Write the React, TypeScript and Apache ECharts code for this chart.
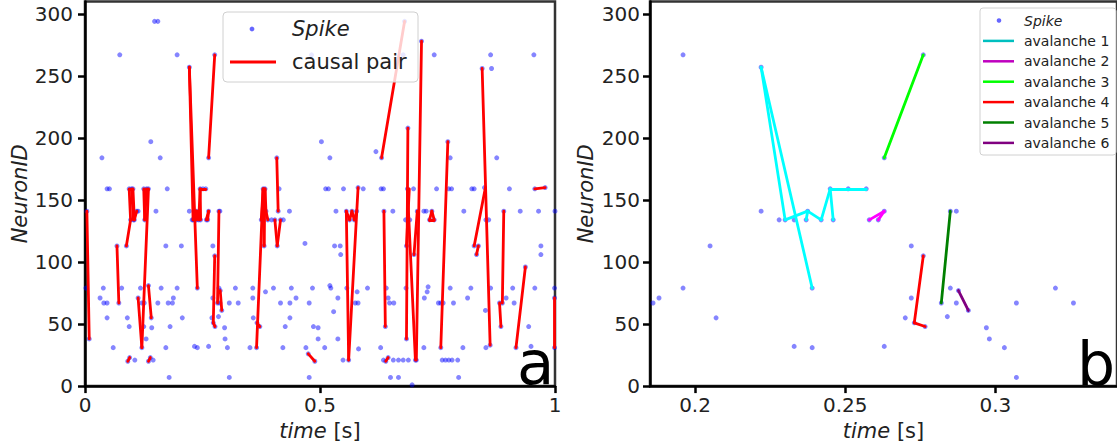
import React, { useEffect, useRef } from "react";
import * as echarts from "echarts";

type P = [number, number];
type E = [P, P];

// ---- spikes (time [s], neuron id) ----
const spikesEarly: P[] = [
  [0.002, 79], [0.004, 141], [0.009, 38], [0.032, 71], [0.036, 184], [0.039, 79], [0.040, 67], [0.047, 67],
  [0.047, 159], [0.052, 159], [0.047, 55], [0.060, 31], [0.068, 113], [0.072, 67], [0.074, 267], [0.078, 79],
  [0.088, 113], [0.090, 55], [0.094, 48], [0.091, 20], [0.095, 23], [0.094, 159], [0.097, 134], [0.099, 159],
  [0.102, 159], [0.103, 134], [0.105, 134], [0.106, 21], [0.110, 141], [0.113, 141], [0.113, 71], [0.118, 79],
  [0.121, 31], [0.121, 67], [0.125, 159], [0.126, 67], [0.125, 48], [0.127, 134], [0.130, 38], [0.131, 159],
  [0.135, 159], [0.135, 81], [0.141, 55], [0.135, 20], [0.139, 23], [0.142, 47], [0.145, 21], [0.140, 197],
  [0.148, 294], [0.155, 294], [0.151, 141], [0.155, 67], [0.160, 184], [0.162, 79], [0.172, 113], [0.172, 31],
  [0.175, 159], [0.177, 67], [0.179, 7], [0.181, 48],
];

const spikesWindow: P[] = [
  [0.186, 67], [0.188, 71], [0.196, 79], [0.196, 267], [0.205, 113], [0.207, 55], [0.222, 257], [0.222, 141],
  [0.228, 134], [0.230, 134], [0.233, 134], [0.237, 134], [0.2375, 141], [0.242, 134], [0.245, 159], [0.246, 134],
  [0.251, 159], [0.257, 159], [0.233, 32], [0.239, 31], [0.239, 79], [0.258, 134], [0.261, 134], [0.263, 141],
  [0.263, 184], [0.276, 267], [0.263, 32], [0.270, 55], [0.272, 113], [0.272, 71], [0.273, 51], [0.276, 105],
  [0.2766, 48], [0.282, 67], [0.285, 141], [0.287, 141], [0.285, 79], [0.287, 67], [0.284, 56], [0.2877, 77],
  [0.291, 61], [0.297, 47], [0.298, 38], [0.303, 31], [0.307, 7], [0.307, 67], [0.320, 79], [0.326, 67],
];

const spikesLate: P[] = [
  [0.482, 267], [0.677, 267], [0.743, 267], [0.863, 267], [0.955, 267], [0.845, 256], [0.865, 256],
  [0.716, 278], [0.680, 294], [0.687, 208], [0.503, 197], [0.772, 197], [0.619, 189],
  [0.408, 184], [0.521, 184], [0.631, 184], [0.777, 184], [0.876, 184],
  [0.379, 159], [0.383, 159], [0.413, 159], [0.512, 159], [0.518, 159], [0.550, 159], [0.581, 160], [0.592, 159],
  [0.630, 159], [0.635, 159], [0.686, 159], [0.699, 159], [0.748, 159], [0.774, 159], [0.780, 159], [0.823, 159],
  [0.828, 159], [0.850, 160], [0.903, 159], [0.957, 159], [0.979, 160],
  [0.385, 141], [0.411, 141], [0.435, 141], [0.534, 141], [0.556, 141], [0.568, 141], [0.578, 141], [0.636, 141],
  [0.655, 141], [0.707, 141], [0.721, 141], [0.726, 141], [0.738, 141], [0.806, 141], [0.891, 141], [0.926, 141],
  [0.965, 141], [1.0, 141],
  [0.375, 134], [0.389, 134], [0.397, 134], [0.404, 134], [0.416, 134], [0.422, 134], [0.563, 134], [0.573, 134],
  [0.682, 134], [0.691, 134], [0.733, 134], [0.743, 134], [0.853, 134], [0.859, 134],
  [0.381, 113], [0.409, 113], [0.468, 115], [0.531, 113], [0.543, 113], [0.684, 113], [0.828, 113], [0.837, 113],
  [0.970, 113], [0.544, 106], [0.700, 106], [0.833, 106], [0.970, 106], [0.937, 96],
  [0.357, 79], [0.384, 76], [0.401, 79], [0.439, 79], [0.484, 79], [0.521, 81], [0.523, 79], [0.557, 79],
  [0.579, 76], [0.601, 79], [0.641, 79], [0.683, 79], [0.722, 71], [0.728, 76], [0.730, 80], [0.777, 79],
  [0.821, 79], [0.863, 79], [0.910, 79], [0.957, 79], [0.999, 79],
  [0.357, 71], [0.449, 71], [0.538, 71], [0.645, 71], [0.814, 71], [0.896, 71], [0.999, 71],
  [0.416, 67], [0.436, 67], [0.477, 67], [0.575, 67], [0.581, 67], [0.648, 67], [0.657, 67], [0.752, 67],
  [0.757, 67], [0.762, 67], [0.784, 67], [0.882, 67], [0.888, 67], [0.913, 67],
  [0.529, 60], [0.852, 61], [0.358, 55], [0.436, 55],
  [0.366, 51], [0.372, 48], [0.426, 48], [0.486, 48], [0.496, 47], [0.639, 48], [0.885, 48], [0.944, 48],
  [0.496, 38], [0.538, 38], [0.684, 38],
  [0.351, 31], [0.365, 31], [0.421, 31], [0.470, 31], [0.510, 31], [0.582, 30], [0.629, 31], [0.721, 31],
  [0.757, 31], [0.804, 31], [0.853, 31], [0.862, 33], [0.917, 31], [0.949, 32], [0.999, 31],
  [0.475, 26], [0.489, 20], [0.549, 21], [0.561, 21], [0.640, 20], [0.645, 23], [0.656, 21], [0.667, 21],
  [0.677, 21], [0.688, 21], [0.703, 21], [0.705, 21], [0.760, 21], [0.767, 21], [0.774, 21], [0.781, 21],
  [0.793, 21], [0.635, 21],
  [0.477, 7], [0.650, 7], [0.667, 7], [0.795, 7], [0.696, 1],
];

// ---- causal pairs outside the zoomed window ----
const causalEarly: E[] = [
  [[0.004, 141], [0.009, 38]], [[0.068, 113], [0.072, 67]], [[0.088, 113], [0.097, 134]],
  [[0.094, 159], [0.097, 134]], [[0.094, 159], [0.102, 159]], [[0.102, 159], [0.105, 134]],
  [[0.099, 159], [0.103, 134]], [[0.105, 134], [0.110, 141]], [[0.091, 20], [0.095, 23]],
  [[0.113, 71], [0.121, 31]], [[0.121, 31], [0.135, 159]], [[0.125, 159], [0.127, 134]],
  [[0.127, 134], [0.131, 159]], [[0.131, 159], [0.135, 159]], [[0.135, 81], [0.141, 55]],
  [[0.135, 20], [0.139, 23]],
];

const causalLate: E[] = [
  [[0.365, 31], [0.379, 159]], [[0.375, 134], [0.379, 159]], [[0.379, 159], [0.381, 113]],
  [[0.381, 113], [0.383, 159]], [[0.383, 159], [0.385, 141]], [[0.385, 141], [0.389, 134]],
  [[0.366, 51], [0.372, 48]], [[0.408, 184], [0.411, 141]], [[0.404, 134], [0.409, 113]],
  [[0.409, 113], [0.416, 134]], [[0.475, 26], [0.489, 20]], [[0.556, 141], [0.561, 21]],
  [[0.561, 21], [0.581, 160]], [[0.556, 141], [0.563, 134]], [[0.563, 134], [0.568, 141]],
  [[0.568, 141], [0.573, 134]], [[0.573, 134], [0.578, 141]], [[0.636, 141], [0.639, 48]],
  [[0.640, 20], [0.645, 23]], [[0.631, 184], [0.680, 294]], [[0.687, 208], [0.684, 38]],
  [[0.716, 278], [0.705, 21]], [[0.686, 159], [0.703, 21]], [[0.684, 113], [0.690, 159]],
  [[0.700, 106], [0.707, 141]], [[0.733, 134], [0.738, 141]], [[0.738, 141], [0.743, 134]],
  [[0.733, 134], [0.743, 134]], [[0.772, 197], [0.757, 31]], [[0.845, 256], [0.862, 33]],
  [[0.852, 160], [0.828, 113]], [[0.837, 113], [0.833, 106]], [[0.891, 141], [0.888, 67]],
  [[0.882, 67], [0.885, 48]], [[0.917, 31], [0.937, 96]], [[0.999, 71], [0.999, 31]],
  [[0.957, 159], [0.979, 160]],
];

// ---- avalanches in the zoomed window ----
const avalanche1: E[] = [
  [[0.222, 257], [0.230, 134]], [[0.222, 257], [0.239, 79]], [[0.230, 134], [0.2375, 141]],
  [[0.237, 134], [0.2375, 141]], [[0.2375, 141], [0.242, 134]], [[0.242, 134], [0.245, 159]],
  [[0.245, 159], [0.257, 159]], [[0.245, 159], [0.246, 134]],
];
const avalanche2: E[] = [[[0.258, 134], [0.263, 141]], [[0.261, 134], [0.263, 141]]];
const avalanche3: E[] = [[[0.263, 184], [0.276, 267]]];
const avalanche4: E[] = [[[0.276, 105], [0.273, 51]], [[0.273, 51], [0.2766, 48]]];
const avalanche5: E[] = [[[0.282, 67], [0.285, 141]]];
const avalanche6: E[] = [[[0.2877, 77], [0.291, 61]]];

const avalanches: E[][] = [avalanche1, avalanche2, avalanche3, avalanche4, avalanche5, avalanche6];
const avalancheNames = ["avalanche 1", "avalanche 2", "avalanche 3", "avalanche 4", "avalanche 5", "avalanche 6"];
const avalancheColors = ["#00ffff", "#ff00ff", "#00ff00", "#ff0000", "#008000", "#800080"];
const avalancheLegendColors = ["#00bfbf", "#bf00bf", "#00ff00", "#ff0000", "#008000", "#800080"];

const yTicks = [0, 50, 100, 150, 200, 250, 300];
const xTicksA = [0, 0.5, 1];
const xTicksB = [0.2, 0.25, 0.3];

const FONT = "DejaVu Sans";
const TEXT = "#222";
const SPIKE = "rgba(0,0,255,0.6)";

function xAxis(gridIndex: number, min: number, max: number, ticks: number[]) {
  return {
    type: "value",
    gridIndex,
    min,
    max,
    name: "{i|time} [s]",
    nameLocation: "middle",
    nameGap: 29,
    nameTextStyle: {
      fontSize: 21, color: TEXT, fontFamily: FONT,
      rich: { i: { fontStyle: "italic", fontSize: 21, color: TEXT, fontFamily: FONT } },
    },
    axisLine: { show: true, onZero: false, lineStyle: { color: "#000", width: 2.5 } },
    axisTick: { show: true, inside: false, length: 7, customValues: ticks, lineStyle: { color: "#000", width: 2.5 } },
    axisLabel: {
      show: true, margin: 9, fontSize: 20, color: TEXT, fontFamily: FONT, customValues: ticks,
      formatter: (v: number) => String(+Number(v).toFixed(3)),
    },
    splitLine: { show: false },
  };
}

function yAxis(gridIndex: number, margin: number) {
  return {
    type: "value",
    gridIndex,
    min: 0,
    max: 310,
    name: "NeuronID",
    nameLocation: "middle",
    nameGap: 54,
    nameTextStyle: { fontSize: 21, color: TEXT, fontFamily: FONT, fontStyle: "italic" },
    axisLine: { show: true, onZero: false, lineStyle: { color: "#000", width: 2.5 } },
    axisTick: { show: true, inside: false, length: 7, customValues: yTicks, lineStyle: { color: "#000", width: 2.5 } },
    axisLabel: { show: true, margin, fontSize: 20, color: TEXT, fontFamily: FONT, customValues: yTicks },
    splitLine: { show: false },
  };
}

export default function App() {
  const ref = useRef<HTMLDivElement>(null);

  useEffect(() => {
    if (!ref.current) return;
    const chart = echarts.init(ref.current, undefined, { renderer: "svg" });

    const spikesA: P[] = [...spikesEarly, ...spikesWindow, ...spikesLate];
    const causalA: E[] = [...causalEarly, ...avalanches.flat(), ...causalLate];

    const avalancheSeries = avalanches.map((edges, i) => ({
      type: "lines",
      name: avalancheNames[i],
      coordinateSystem: "cartesian2d",
      xAxisIndex: 1,
      yAxisIndex: 1,
      polyline: false,
      silent: true,
      z: 3,
      data: edges.map((e) => ({ coords: e })),
      lineStyle: { color: avalancheColors[i], width: 2.8, opacity: 1, cap: "round" },
    }));

    const legendB: any[] = [];
    const rowY0 = 20.5;
    const rowDy = 20.4;
    legendB.push({ type: "rect", z: 50, shape: { x: 980, y: 8, width: 136, height: 147, r: 3 },
      style: { fill: "rgba(255,255,255,0.8)", stroke: "#d0d0d0", lineWidth: 1 } });
    legendB.push({ type: "circle", z: 51, shape: { cx: 999, cy: rowY0, r: 2.3 }, style: { fill: SPIKE } });
    legendB.push({ type: "text", z: 51, x: 1024, y: rowY0,
      style: { text: "Spike", fontSize: 14, fontStyle: "italic", fontFamily: FONT, fill: TEXT, verticalAlign: "middle", align: "left" } });
    avalancheNames.forEach((n, i) => {
      const y = rowY0 + rowDy * (i + 1);
      legendB.push({ type: "line", z: 51, shape: { x1: 983, y1: y, x2: 1014, y2: y },
        style: { stroke: avalancheLegendColors[i], lineWidth: 2.5 } });
      legendB.push({ type: "text", z: 51, x: 1024, y,
        style: { text: n, fontSize: 14, fontFamily: FONT, fill: TEXT, verticalAlign: "middle", align: "left" } });
    });

    chart.setOption({
      animation: false,
      textStyle: { fontFamily: FONT },
      grid: [
        { left: 85, top: 1.5, width: 470, height: 385.5, show: true, borderColor: "#333", borderWidth: 2.5 },
        { left: 650, top: 1.5, width: 473, height: 385.5, show: true, borderColor: "#333", borderWidth: 2.5 },
      ],
      xAxis: [xAxis(0, 0, 1, xTicksA), xAxis(1, 0.185, 0.3405, xTicksB)],
      yAxis: [yAxis(0, 12), yAxis(1, 10)],
      series: [
        {
          type: "scatter", name: "Spike", xAxisIndex: 0, yAxisIndex: 0, data: spikesA,
          symbol: "circle", symbolSize: 5, itemStyle: { color: SPIKE }, silent: true, z: 2,
        },
        {
          type: "lines", name: "causal pair", coordinateSystem: "cartesian2d", xAxisIndex: 0, yAxisIndex: 0,
          polyline: false, silent: true, z: 3,
          data: causalA.map((e) => ({ coords: e })),
          lineStyle: { color: "#ff0000", width: 2.8, opacity: 1, cap: "round" },
        },
        {
          type: "scatter", name: "Spike ", xAxisIndex: 1, yAxisIndex: 1, data: spikesWindow,
          symbol: "circle", symbolSize: 5, itemStyle: { color: SPIKE }, silent: true, z: 2,
        },
        ...avalancheSeries,
      ],
      graphic: [
        { type: "rect", z: 50, shape: { x: 223, y: 12, width: 195, height: 70, r: 4 },
          style: { fill: "rgba(255,255,255,0.8)", stroke: "#d0d0d0", lineWidth: 1 } },
        { type: "circle", z: 51, shape: { cx: 252, cy: 29, r: 2.4 }, style: { fill: SPIKE } },
        { type: "text", z: 51, x: 292, y: 29,
          style: { text: "Spike", fontSize: 21, fontStyle: "italic", fontFamily: FONT, fill: TEXT, verticalAlign: "middle", align: "left" } },
        { type: "line", z: 51, shape: { x1: 230, y1: 62, x2: 276, y2: 62 }, style: { stroke: "#ff0000", lineWidth: 3 } },
        { type: "text", z: 51, x: 292, y: 62,
          style: { text: "causal pair", fontSize: 21, fontFamily: FONT, fill: TEXT, verticalAlign: "middle", align: "left" } },
        ...legendB,
        { type: "text", z: 52, x: 517, y: 362.5,
          style: { text: "a", fontSize: 61, fontFamily: FONT, fill: "#000", verticalAlign: "middle", align: "left" } },
        { type: "text", z: 52, x: 1077, y: 363.5,
          style: { text: "b", fontSize: 60, fontFamily: FONT, fill: "#000", verticalAlign: "middle", align: "left" } },
      ],
    });

    return () => chart.dispose();
  }, []);

  return (
    <div
      ref={ref}
      style={{ position: "absolute", left: 0, top: 0, width: 1117, height: 446, background: "#fff", overflow: "hidden" }}
    />
  );
}
